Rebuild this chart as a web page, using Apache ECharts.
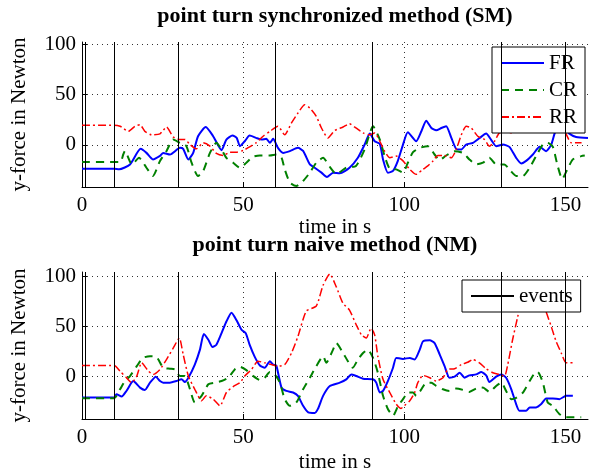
<!DOCTYPE html>
<html>
<head>
<meta charset="utf-8">
<script src="https://cdn.jsdelivr.net/npm/echarts@6.0.0/dist/echarts.min.js"></script>
<style>
  html, body { margin: 0; padding: 0; background: #fff; }
  #chart { width: 597px; height: 474px; }
</style>
</head>
<body>
<div id="chart"></div>
<script>
// time axis ticks, force ticks and event times
var xTicks = [0, 50, 100, 150];
var yTicks = [0, 50, 100];
var eventTimes = [1, 10, 30, 60, 90, 130, 150];

// point turn synchronized method (SM): [time s, force N]
var smFR = [[0,-23.8],[10,-23.8],[11.5,-24.4],[14.9,-19.5],[18.2,-4],[20,-8],[22,-14.5],[24.2,-11],[25.2,-8],[27.3,-9.6],[30.4,-3],[31.4,-4],[33,-14.5],[34.5,-8],[36,8.6],[38.4,17.8],[40.7,8.6],[43.3,-5.3],[44.8,5.3],[46.7,9.2],[48,7],[49,-1.3],[50.5,3.6],[52,9.2],[54,7],[55.7,5.3],[57.2,6],[58.3,2],[59.3,6],[60.8,-3],[62.4,-8],[64.5,-6.3],[67,-3],[68.6,-6],[70.7,-19.5],[72.2,-22.8],[74.3,-27.7],[76,-32],[77.9,-27.7],[80,-28.4],[83,-22.8],[85.6,-12.9],[87.7,0.3],[89.3,11.2],[90.8,3.6],[92.4,1],[93.4,-14.5],[94.9,-27.7],[96.5,-26],[98,-16],[99.6,0.3],[101.1,12.5],[103.7,3.6],[105.3,13.5],[106.8,24],[108.4,16.8],[109.9,14.5],[111.5,16.8],[113,18.5],[114.6,6.9],[116.1,-4],[117.7,-4.6],[119.2,0.3],[121.3,2],[123.4,6.9],[125.4,11.2],[126.9,5.3],[128.5,-1.3],[130.6,0.3],[132.6,-2],[134.7,-12.9],[136.3,-18.5],[137.8,-16],[139.9,-9.6],[142,-2],[144,-6.3],[145.6,0.3],[147.1,15.2],[149.2,17.8],[151.2,11.2],[153.3,7.9],[157,6.9]];
var smCR = [[0,-17.2],[11.8,-17.2],[12.8,-9.6],[13.3,-6],[15.5,-19.5],[17.7,-12.9],[20,-22.8],[22,-31],[24.2,-16],[26.2,-6.3],[28.3,5.3],[30.4,2],[32.4,-1.3],[34,-17.8],[36,-31],[37.6,-26],[39.7,-8],[41.7,2],[43.3,-4.6],[44.8,-12.9],[46.9,-17.8],[49,-22.8],[51,-17.8],[53,-11.9],[55.2,-10.6],[58.3,-10.6],[60.3,-9.6],[61.9,-12.9],[62.9,-24.4],[64.5,-37.6],[66.5,-41],[68.6,-36],[70.7,-27.7],[72.7,-17.8],[74.8,-12.9],[76.9,-22],[78.9,-29],[82,-22.8],[85,-21],[87.7,-4.6],[90.3,18.5],[92.4,5.3],[93.9,-11.2],[95.5,-23.8],[97.5,-24.4],[99.6,-27.7],[101.1,-17.8],[102.7,-7.3],[104.8,-3],[107.3,-1.3],[109.4,-9.6],[110.9,-15.2],[113,-10.6],[115.6,-6.3],[118.2,-8],[120.2,-14.5],[122.3,-19.5],[124.4,-17.8],[126.4,-12.9],[128.5,-19.5],[131,-19.5],[133,-26],[134.7,-31],[136.8,-31],[138.9,-22.8],[140.9,-11.2],[143,0.3],[144.5,2],[146.1,-2],[147.5,-20],[149,-34],[150.5,-25],[152.3,-14.5],[154.9,-11.2],[156,-10.6]];
var smRR = [[0,19.5],[10,19.5],[11.8,18.5],[14.4,13.5],[16.4,18.5],[18,20],[19.5,13.5],[21.6,10],[24.2,11],[26.2,17.8],[28.3,7.9],[30.4,5.3],[32,5.3],[33.5,0.3],[35.5,-4],[37.6,2],[39.7,-1.3],[41.7,-8.6],[43.8,-10.6],[45.9,-7.3],[47.9,-7.3],[50,-5.6],[52,-2],[54,2],[56.2,8.6],[58.3,13.5],[60.8,18.5],[62.9,10],[65,21.8],[67,31.7],[69.1,40],[70.7,36.6],[72.7,28.4],[74.3,16.8],[76.3,6.9],[78.4,14.2],[81,17.8],[83,21],[85,16.8],[87.2,11.9],[89.3,10],[90.8,11.9],[92.4,3.6],[93.9,-6.3],[95.5,-12.9],[97.5,-11.2],[99.6,-16],[101.7,-24.4],[103.7,-29.4],[105.8,-24.4],[107.3,-21],[108.9,-16],[110.4,-10.6],[112.5,-10.6],[114.6,-12.9],[116.1,-4.6],[117.7,10],[119.2,18.5],[120.8,16.8],[122.8,8.6],[124.9,5.3],[126.4,-1.3],[128,3.6],[129.5,11.9],[131.6,13.5],[133.2,12],[135,20],[138,25],[142,22],[146,20],[148.5,16],[150,12],[151.8,2],[155,2]];

// point turn naive method (NM): [time s, force N]
var nmFR = [[0,-20.7],[10,-20.7],[10.7,-17.4],[12.3,-19.7],[13.8,-14.1],[15.9,-4.3],[18,-10.8],[19.5,-13.1],[21.1,-5.9],[22.9,0],[24.2,-4.3],[25.2,-5.9],[27.3,-5.9],[29.3,-4.3],[30.9,-2.6],[31.9,-5.2],[33,-1],[35,12.1],[36.6,26.9],[37.8,42.3],[39.2,36.7],[40.5,29.5],[41.7,31.8],[43.3,43.3],[44.8,54.8],[46.4,63.6],[47.9,56.4],[49.5,46.6],[50.8,43.3],[52,31.8],[53.6,19.7],[55.2,11.1],[56.7,8.9],[58.3,15.4],[59.3,12.1],[60.3,11.1],[61.9,-10.8],[63.4,-14.1],[65.5,-15.7],[67,-19],[68.6,-28.9],[70.2,-35.4],[72.2,-36],[73.2,-32],[74.8,-19],[76.9,-9.2],[80,-5.9],[82,-2.6],[83.6,2.3],[85.1,0.7],[87.2,-2],[90.3,-2.6],[91.3,-5.9],[92.4,-15.7],[93.4,-14],[94.9,-4.3],[96.5,8.9],[97.5,18.7],[99.6,17.7],[101.7,18.7],[103.2,17],[104.8,26.9],[105.8,35.1],[107.9,36.1],[109.4,33.4],[111,22],[112.5,10.5],[114,-1],[115.6,0],[117.2,3.9],[118.7,-1],[120.2,1.3],[122.3,2.3],[123.9,4.6],[125.4,1.3],[126.4,-5.2],[128.5,0],[130.1,2.3],[131.6,-1],[133.2,-12.5],[134.7,-27.2],[135.7,-33.8],[137.8,-33.8],[138.9,-30.5],[140.9,-30.5],[142.5,-27.2],[144,-21.6],[146.1,-21.6],[148.1,-22.3],[150.2,-19],[152.3,-19]];
var nmCR = [[0,-21.3],[10,-21.3],[11.8,-12.5],[13.3,-4.3],[14.9,0.7],[17,10.5],[18.9,18.7],[21.1,20.3],[23.1,19.7],[25.2,8.9],[27.3,7.9],[28.8,7.2],[30.4,0.7],[31.9,0.7],[33.5,-12.5],[35,-25.6],[37.1,-19],[39.2,-7.5],[41.2,-5.9],[43.3,-4.3],[45.4,-1],[47.4,7.2],[49,9.8],[51,6.6],[53.1,0.7],[55.2,-3.3],[56.7,-1],[58.3,4.6],[59.8,2.3],[61.4,-5.9],[62.9,-22.3],[64.5,-28.9],[66.5,-25.6],[68.6,-12.5],[70.7,-1],[72.7,10.5],[74.8,20.3],[75.8,13.8],[77.9,26.9],[78.9,33.4],[81,23.6],[82.5,15.4],[84,8.9],[85.6,17],[87.2,23.6],[88.7,26.9],[90.3,18.7],[91.8,3.9],[93.4,-19],[94.9,-32.1],[96.5,-38.7],[98.1,-28.9],[99.6,-22.3],[101.2,-15.7],[102.7,-15.7],[103.7,-19],[105.3,-12.5],[106.8,-5.9],[108.4,-5.9],[109.9,-9.2],[112,-12.5],[114,-14.1],[116.1,-11.8],[118.2,-13.1],[120.2,-15.1],[122.3,-11.8],[124.4,-10.8],[126.4,-15.1],[128.5,-9.2],[130.1,-5.9],[131.6,-14.1],[133.2,-22.3],[134.7,-21],[136.8,-15.7],[138.9,-4.3],[140.4,3.3],[141.4,4.6],[143,-5.9],[144.5,-25.6],[146.1,-28.9],[148.1,-37],[150.2,-40.3],[154.9,-40.3]];
var nmRR = [[0,11.1],[10,11.1],[11.8,5.6],[13.8,-1],[15.4,-5.9],[17,0.7],[18.5,13.8],[20.6,5.6],[22.1,2.3],[24.2,7.2],[26.2,17],[28.3,28.5],[30.2,38.4],[31.4,22],[33,0.7],[35,-12.5],[37.1,-23.9],[38.6,-19],[40.7,-22.3],[42.8,-28.9],[44.8,-15.7],[46.9,-9.8],[49,-5.9],[50.5,0.7],[52.6,7.2],[54.6,15.4],[56.7,13.8],[58.8,12.1],[60.8,10.5],[62.9,12.1],[65,23.6],[67,40],[69.6,65.2],[72.7,70.2],[74.8,90.8],[76.9,102],[78.9,89.2],[81,72.8],[83,66.2],[85.1,51.5],[86.7,41.6],[88.2,38.4],[89.7,48.2],[90.8,41.6],[91.8,20.3],[93.4,-2.6],[95.5,-15.7],[97.5,-27.2],[99,-31.5],[100,-28.9],[101.7,-23.9],[103.2,-15.7],[104.2,-5.9],[105.8,1.3],[107.9,-1],[109.9,-4.3],[112,-1],[113.5,7.2],[115.6,7.9],[117.7,12.1],[119.7,14.4],[121.3,17],[123.3,13.8],[125.4,7.9],[127.5,3.9],[129.5,2.3],[131.1,0.7],[132.1,12.1],[133.6,36.7],[135.2,59.7],[136.2,72.8],[138,86],[140,92],[142,86],[144,64.6],[145.6,49.8],[147.1,35.1],[148.7,23.6],[150.2,13.8],[152.7,13.8]];

var serif = '"Liberation Serif", "DejaVu Serif", serif';
var myChart = echarts.init(document.getElementById('chart'));

// width of a title, so that it can be centred over the plot area
function textWidth(str, font) {
    var ctx = document.createElement('canvas').getContext('2d');
    ctx.font = font;
    return ctx.measureText(str).width;
}
var titleFont = 'bold 22px ' + serif;
var plotCenter = 335;
var title1 = 'point turn synchronized method (SM)';
var title2 = 'point turn naive method (NM)';

function makeX(idx, gap) {
    return {
        type: 'value', gridIndex: idx, min: 0, max: 157,
        name: 'time in s', nameLocation: 'middle', nameGap: gap,
        nameTextStyle: { fontFamily: serif, fontSize: 21, color: '#000' },
        axisLine: { show: true, onZero: false, lineStyle: { color: '#000', width: 1 } },
        axisTick: { show: true, inside: true, length: 5, customValues: xTicks, lineStyle: { color: '#000' } },
        axisLabel: { customValues: xTicks, fontFamily: serif, fontSize: 21, color: '#000', margin: 8 },
        splitLine: { show: true, lineStyle: { color: '#333', type: [1, 4], width: 1 } }
    }
}

function makeY(idx, max) {
    return {
        type: 'value', gridIndex: idx, min: -42, max: max,
        name: 'y-force in Newton', nameLocation: 'middle', nameGap: 52, nameRotate: 90,
        nameTextStyle: { fontFamily: serif, fontSize: 21, color: '#000' },
        axisLine: { show: true, onZero: false, lineStyle: { color: '#000', width: 1 } },
        axisTick: { show: true, inside: true, length: 5, customValues: yTicks, lineStyle: { color: '#000' } },
        axisLabel: { customValues: yTicks, fontFamily: serif, fontSize: 21, color: '#000', margin: 6 },
        splitLine: { show: true, lineStyle: { color: '#333', type: [1, 4], width: 1 } }
    }
}

function lineSeries(name, data, idx, color, type, width) {
    return {
        name: name, type: 'line', data: data,
        xAxisIndex: idx, yAxisIndex: idx,
        symbol: 'none', showSymbol: false, smooth: 0.2, animation: false,
        itemStyle: { color: color },
        lineStyle: { color: color, width: width, type: type }
    }
}

function eventSeries(idx) {
    return {
        name: 'events', type: 'line', data: [],
        xAxisIndex: idx, yAxisIndex: idx,
        symbol: 'none', animation: false,
        itemStyle: { color: '#000' },
        lineStyle: { color: '#000', width: 1 },
        markLine: {
            silent: true, symbol: ['none', 'none'], animation: false,
            label: { show: false },
            lineStyle: { color: '#000', width: 1, type: 'solid' },
            data: eventTimes.map(function(t) { return { xAxis: t } })
        }
    }
}

var dashGreen = [8, 6];
var dashDot = [8, 3, 2, 3];
var legendText = { fontFamily: serif, fontSize: 21, color: '#000', lineHeight: 22 };

var option = {
    backgroundColor: '#fff',
    title: [
        {
            text: title1, left: plotCenter - textWidth(title1, titleFont) / 2, top: 1,
            padding: [4, 0, 4, 0],
            textStyle: { fontFamily: serif, fontWeight: 'bold', fontSize: 22, color: '#000' }
        },
        {
            text: title2, left: plotCenter - textWidth(title2, titleFont) / 2, top: 230,
            padding: [4, 0, 4, 0],
            textStyle: { fontFamily: serif, fontWeight: 'bold', fontSize: 22, color: '#000' }
        }
    ],
    legend: [
        {
            data: ['FR', 'CR', 'RR'], orient: 'vertical', left: 492, top: 47,
            itemWidth: 43, itemHeight: 14, itemGap: 5,
            padding: [5, 8, 5, 8],
            backgroundColor: '#fff', borderColor: '#000', borderWidth: 1,
            itemStyle: { opacity: 0 },
            textStyle: legendText
        },
        {
            data: ['events'], orient: 'vertical', left: 462, top: 280,
            itemWidth: 43, itemHeight: 14,
            padding: [5, 8, 5, 8],
            backgroundColor: '#fff', borderColor: '#000', borderWidth: 1,
            itemStyle: { opacity: 0 },
            textStyle: legendText
        }
    ],
    grid: [
        { left: 82, right: 9, top: 42, height: 145 },
        { left: 82, right: 9, top: 272, height: 148 }
    ],
    xAxis: [makeX(0, 24), makeX(1, 33)],
    yAxis: [makeY(0, 102.5), makeY(1, 104)],
    series: [
        eventSeries(0),
        lineSeries('FR', smFR, 0, '#0000ff', 'solid', 2),
        lineSeries('CR', smCR, 0, '#008000', dashGreen, 2),
        lineSeries('RR', smRR, 0, '#ff0000', dashDot, 1.5),
        eventSeries(1),
        lineSeries('FR', nmFR, 1, '#0000ff', 'solid', 2),
        lineSeries('CR', nmCR, 1, '#008000', dashGreen, 2),
        lineSeries('RR', nmRR, 1, '#ff0000', dashDot, 1.5)
    ]
}

myChart.setOption(option)
window.addEventListener('resize', function() {
    myChart.resize()
})
</script>
</body>
</html>
